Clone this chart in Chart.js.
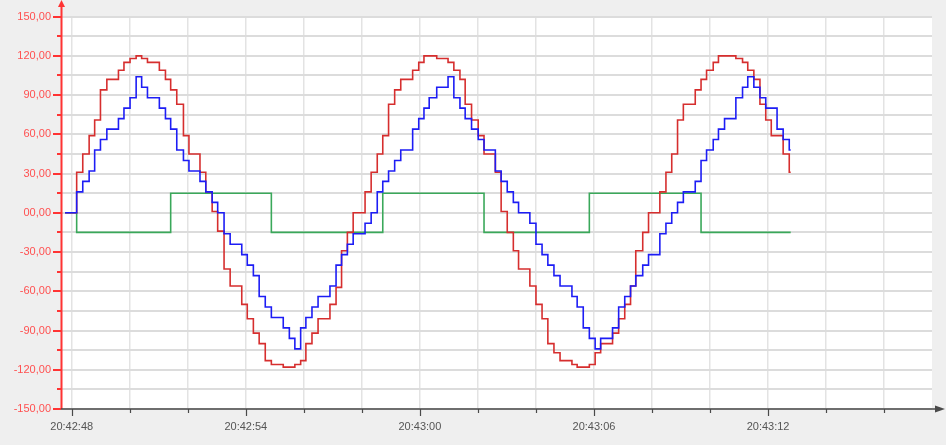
<!DOCTYPE html>
<html>
<head>
<meta charset="utf-8">
<script src="https://cdn.jsdelivr.net/npm/chart.js@4.4.1/dist/chart.umd.min.js"></script>
<style>
  html, body { margin: 0; padding: 0; background: #efefef; }
  #wrap { width: 946px; height: 445px; }
</style>
</head>
<body>
<div id="wrap"><canvas id="trend" width="946" height="445"></canvas></div>
<script>
// seconds after 20:42:48 at which a new sample was taken
const sampleTimes = [
  -0.23, 0.17, 0.38, 0.60, 0.79, 0.99, 1.21, 1.61, 1.80, 2.01,
  2.22, 2.41, 2.61, 3.02, 3.23, 3.41, 3.62, 3.85, 4.04, 4.42,
  4.62, 4.84, 5.03, 5.25, 5.46, 5.86, 6.05, 6.26, 6.46, 6.67,
  6.88, 7.29, 7.50, 7.69, 7.89, 8.07, 8.28, 8.49, 8.90, 9.11,
  9.30, 9.50, 9.70, 10.11, 10.32, 10.53, 10.72, 10.92, 11.13, 11.34,
  11.75, 11.96, 12.14, 12.32, 12.58, 12.97, 13.17, 13.38, 13.56, 13.78,
  14.01, 14.21, 14.60, 14.80, 15.01, 15.22, 15.40, 15.79, 16.00, 16.21,
  16.41, 16.62, 16.83, 17.24, 17.42, 17.63, 17.84, 18.04, 18.23, 18.64,
  18.85, 19.06, 19.26, 19.44, 19.68, 19.88, 20.27, 20.48, 20.68, 20.88,
  21.08, 21.49, 21.69, 21.88, 22.11, 22.29, 22.50, 22.89, 23.12, 23.30,
  23.51, 23.72, 23.92, 24.11, 24.31, 24.52, 24.73, 24.78
];

const blueValues = [
  0, 16, 24, 32, 48, 56, 64, 72, 80, 88,
  104, 96, 88, 80, 72, 64, 48, 40, 32, 24,
  16, 8, 0, -16, -24, -32, -40, -48, -64, -72,
  -80, -88, -96, -104, -88, -80, -72, -64, -56, -40,
  -32, -24, -16, -8, 0, 16, 24, 32, 40, 48,
  64, 72, 80, 88, 96, 104, 88, 80, 72, 64,
  56, 48, 32, 24, 16, 8, 0, -8, -24, -32,
  -40, -48, -56, -64, -72, -88, -96, -104, -96, -88,
  -72, -64, -56, -48, -40, -32, -16, -8, 0, 8,
  16, 24, 40, 48, 56, 64, 72, 88, 96, 104,
  96, 88, 80, 80, 64, 56, 48, 48
];

const redValues = [
  0, 31, 45, 59, 71, 94, 102, 109, 115, 118,
  120, 118, 115, 109, 102, 94, 83, 59, 45, 31,
  16, 1, -14, -43, -56, -70, -81, -92, -100, -113,
  -116, -118, -118, -116, -113, -100, -92, -81, -70, -57,
  -29, -15, 0, 16, 31, 45, 59, 83, 94, 102,
  109, 115, 120, 120, 118, 115, 109, 102, 83, 71,
  59, 45, 31, 1, -15, -29, -43, -56, -70, -81,
  -100, -107, -113, -116, -118, -118, -116, -107, -100, -92,
  -81, -70, -56, -29, -15, 0, 16, 31, 45, 71,
  83, 94, 102, 109, 115, 120, 120, 118, 115, 109,
  102, 83, 71, 59, 59, 45, 31, 31
];

const greenValues = [
  0, -15, -15, -15, -15, -15, -15, -15, -15, -15,
  -15, -15, -15, -15, -15, 15, 15, 15, 15, 15,
  15, 15, 15, 15, 15, 15, 15, 15, 15, 15,
  -15, -15, -15, -15, -15, -15, -15, -15, -15, -15,
  -15, -15, -15, -15, -15, -15, 15, 15, 15, 15,
  15, 15, 15, 15, 15, 15, 15, 15, 15, 15,
  15, -15, -15, -15, -15, -15, -15, -15, -15, -15,
  -15, -15, -15, -15, -15, -15, 15, 15, 15, 15,
  15, 15, 15, 15, 15, 15, 15, 15, 15, 15,
  15, 15, -15, -15, -15, -15, -15, -15, -15, -15,
  -15, -15, -15, -15, -15, -15, -15, -15
];

// x ticks every 2 s, labelled every 6 s
const xTickValues = [0, 2, 4, 6, 8, 10, 12, 14, 16, 18, 20, 22, 24, 26, 28];
const xLabelValues = [0, 6, 12, 18, 24];
const xTickLabels = ['20:42:48', '20:42:54', '20:43:00', '20:43:06', '20:43:12'];

const yLabelValues = [150, 120, 90, 60, 30, 0, -30, -60, -90, -120, -150];
const yTickLabels = ['150,00', '120,00', '90,00', '60,00', '30,00', '00,00',
                     '-30,00', '-60,00', '-90,00', '-120,00', '-150,00'];

const toPoints = vals => vals.map((v, i) => ({ x: sampleTimes[i], y: v }));

const axisDecor = {
  id: 'axisDecor',
  beforeDraw(chart) {
    const { ctx, chartArea: a } = chart;
    ctx.save();
    ctx.fillStyle = '#efefef';
    ctx.fillRect(0, 0, chart.width, chart.height);
    ctx.fillStyle = '#ffffff';
    ctx.fillRect(a.left, a.top, a.right - a.left, a.bottom - a.top);
    ctx.restore();
  },
  afterDraw(chart) {
    const { ctx, chartArea: a, scales } = chart;
    const x = scales.x, y = scales.y;
    ctx.save();

    // y axis, red with arrow
    ctx.strokeStyle = '#ff3333';
    ctx.fillStyle = '#ff3333';
    ctx.lineWidth = 2;
    ctx.beginPath();
    ctx.moveTo(a.left + 0.5, 4);
    ctx.lineTo(a.left + 0.5, a.bottom);
    ctx.stroke();
    ctx.beginPath();
    ctx.moveTo(a.left + 0.5, 0);
    ctx.lineTo(a.left - 3, 7);
    ctx.lineTo(a.left + 4, 7);
    ctx.closePath();
    ctx.fill();
    y.ticks.forEach(t => {
      const py = Math.round(y.getPixelForValue(t.value));
      const len = yLabelValues.includes(t.value) ? 8 : 4;
      ctx.beginPath();
      ctx.moveTo(a.left - len, py);
      ctx.lineTo(a.left, py);
      ctx.stroke();
    });

    // x axis, dark grey with arrow
    ctx.strokeStyle = '#4a4a4a';
    ctx.fillStyle = '#4a4a4a';
    ctx.lineWidth = 1.5;
    ctx.beginPath();
    ctx.moveTo(a.left, a.bottom);
    ctx.lineTo(938, a.bottom);
    ctx.stroke();
    ctx.beginPath();
    ctx.moveTo(945, a.bottom);
    ctx.lineTo(935, a.bottom - 3.5);
    ctx.lineTo(935, a.bottom + 3.5);
    ctx.closePath();
    ctx.fill();
    ctx.lineWidth = 1.2;
    x.ticks.forEach(t => {
      const px = Math.round(x.getPixelForValue(t.value)) + 0.5;
      const len = xLabelValues.includes(t.value) ? 7 : 4;
      ctx.beginPath();
      ctx.moveTo(px, a.bottom);
      ctx.lineTo(px, a.bottom + len);
      ctx.stroke();
    });
    ctx.restore();
  }
};

new Chart(document.getElementById('trend'), {
  type: 'line',
  data: {
    datasets: [
      { label: 'Blue', data: toPoints(blueValues), borderColor: '#1d1df5' },
      { label: 'Red', data: toPoints(redValues), borderColor: '#d62e2e' },
      { label: 'Green', data: toPoints(greenValues), borderColor: '#3aa85a' }
    ]
  },
  options: {
    responsive: false,
    animation: false,
    devicePixelRatio: 1,
    layout: { padding: { top: 8, right: 14, left: 0, bottom: 0 } },
    elements: {
      point: { radius: 0 },
      line: { stepped: true, borderWidth: 1.6, fill: false, tension: 0,
              borderJoinStyle: 'miter', borderCapStyle: 'butt' }
    },
    plugins: { legend: { display: false }, tooltip: { enabled: false } },
    scales: {
      x: {
        type: 'linear',
        min: -0.37,
        max: 29.65,
        afterBuildTicks: s => { s.ticks = xTickValues.map(v => ({ value: v })); },
        afterFit: s => { s.height = 36; },
        border: { display: false },
        grid: { color: '#e3e3e3', lineWidth: 1.5, drawTicks: false },
        ticks: {
          autoSkip: false, maxRotation: 0, padding: 11,
          color: '#555555',
          font: { family: 'Liberation Sans', size: 11 },
          callback: v => {
            const i = xLabelValues.indexOf(v);
            return i >= 0 ? xTickLabels[i] : '';
          }
        }
      },
      y: {
        min: -150,
        max: 150,
        afterFit: s => { s.width = 61; },
        border: { display: false },
        grid: { color: '#dcdcdc', lineWidth: 2, drawTicks: false },
        ticks: {
          stepSize: 15, autoSkip: false, padding: 10,
          color: '#ff5050',
          font: { family: 'Liberation Sans', size: 11 },
          callback: v => {
            const i = yLabelValues.indexOf(v);
            return i >= 0 ? yTickLabels[i] : '';
          }
        }
      }
    }
  },
  plugins: [axisDecor]
});
</script>
</body>
</html>
